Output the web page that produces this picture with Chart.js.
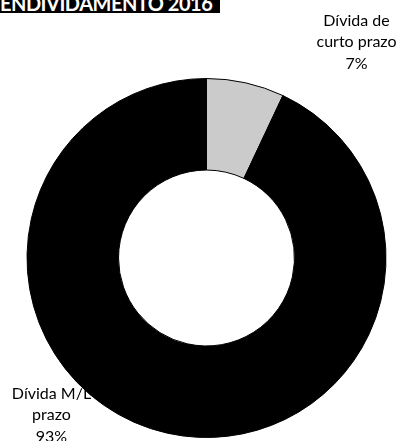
<!DOCTYPE html>
<html lang="pt">
<head>
    <meta charset="UTF-8">
    <title>Endividamento 2016</title>
    <script src="https://cdn.jsdelivr.net/npm/chart.js"></script>
    <style>
        html, body {
            margin: 0;
            padding: 0;
            background: #fff;
            overflow: hidden;
        }

        #wrap {
            position: relative;
            width: 403px;
            height: 441px;
        }

        #titulo {
            position: absolute;
            left: 0;
            top: -7px;
            width: 220px;
            height: 20px;
            background: #000;
            color: #fff;
            font: bold 20px Lato, sans-serif;
            letter-spacing: -0.5px;
            line-height: 21px;
            white-space: nowrap;
            overflow: hidden;
            z-index: 2;
        }
    </style>
</head>
<body>
    <div id="wrap">
        <div id="titulo">ENDIVIDAMENTO 2016</div>
        <canvas id="grafico" width="403" height="441"></canvas>
    </div>

    <script>
        // dados do gráfico
        const categorias = ['Dívida de curto prazo', 'Dívida M/L prazo'];
        const percentuais = [7, 93];
        const rotulos = [
            ['Dívida de', 'curto prazo', '7%'],
            ['Dívida M/L', 'prazo', '93%']
        ];
        const cores = ['#cbcbcb', '#000000'];

        // posição de cada rótulo em relação ao centro do anel (px)
        const offsetsRotulo = [
            { dx: 150, dy: -216 },
            { dx: -155, dy: 157 }
        ];

        // rótulos desenhados antes das fatias, para que o anel os cubra
        const rotulosPlugin = {
            id: 'rotulosPlugin',
            beforeDatasetsDraw(chart) {
                const ctx = chart.ctx;
                const arco = chart.getDatasetMeta(0).data[0];
                const cx = arco.x, cy = arco.y;
                ctx.save();
                ctx.fillStyle = '#000';
                ctx.font = '16px Lato, sans-serif';
                ctx.textAlign = 'center';
                ctx.textBaseline = 'middle';
                rotulos.forEach((linhas, i) => {
                    const o = offsetsRotulo[i];
                    linhas.forEach((txt, k) => {
                        ctx.fillText(txt, cx + o.dx, cy + o.dy + (k - 1) * 21.5);
                    });
                });
                ctx.restore();
            }
        };

        new Chart(document.getElementById('grafico'), {
            type: 'doughnut',
            data: {
                labels: categorias,
                datasets: [{
                    data: percentuais,
                    backgroundColor: cores,
                    borderColor: '#000',
                    borderWidth: 1
                }]
            },
            options: {
                responsive: false,
                animation: false,
                cutout: '49%',
                layout: {
                    padding: { left: 26, right: 16, top: 78, bottom: 3 }
                },
                plugins: {
                    legend: { display: false },
                    tooltip: { enabled: false },
                    title: { display: false }
                }
            },
            plugins: [rotulosPlugin]
        });
    </script>
</body>
</html>
